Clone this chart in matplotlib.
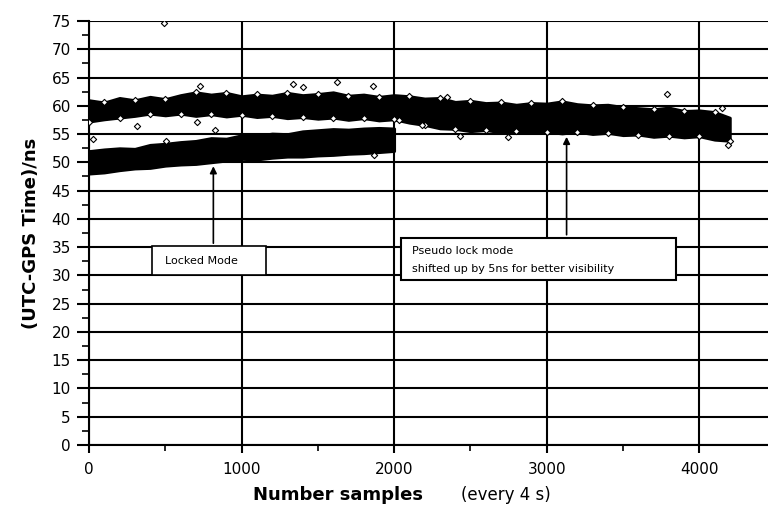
import matplotlib
matplotlib.use('Agg')
from matplotlib import pyplot as plt
from matplotlib.patches import Rectangle
import numpy as np

# pseudo lock mode band (shifted up by 5 ns), edges every 100 samples
pseudo_x = list(range(0, 4300, 100))
pseudo_hi = [61.0, 60.6, 61.4, 61.0, 61.6, 61.2, 61.9, 62.4, 62.0, 62.3, 61.7,
             62.0, 61.8, 62.3, 61.9, 62.1, 62.4, 61.8, 62.0, 61.6, 61.9,
             61.7, 61.3, 61.4, 60.7, 60.9, 60.5, 60.6, 60.2, 60.5, 60.4,
             60.8, 60.3, 60.1, 60.2, 59.8, 59.6, 59.4, 59.7, 59.1, 59.2,
             58.9, 57.9]
pseudo_lo = [57.2, 57.6, 57.9, 58.2, 58.6, 58.3, 58.6, 58.2, 58.5, 58.1, 58.4,
             58.0, 58.2, 57.8, 58.0, 57.7, 57.9, 57.5, 57.8, 57.4, 57.6,
             57.0, 56.6, 56.0, 55.9, 55.5, 55.7, 55.3, 55.5, 55.2, 55.4,
             55.1, 55.4, 55.0, 55.2, 54.8, 54.9, 54.5, 54.7, 54.4, 54.6,
             54.0, 53.8]

# locked mode band
locked_x = list(range(0, 2100, 100))
locked_hi = [52.0, 52.3, 52.5, 52.4, 53.1, 53.3, 53.6, 53.8, 54.3, 54.2, 54.8,
             54.7, 55.1, 55.0, 55.5, 55.7, 55.9, 55.8, 56.0, 56.1, 56.0]
locked_lo = [48.0, 48.2, 48.6, 48.9, 49.0, 49.4, 49.6, 49.7, 50.0, 50.3, 50.6,
             50.5, 50.8, 51.0, 51.0, 51.2, 51.3, 51.5, 51.6, 51.8, 52.0]

# scattered samples outside the dense bands
outlier_x = [493, 312, 705, 826, 26, 505, 727, 1335, 1403, 1625, 1861, 2180,
             1868, 2031, 2344, 2431, 2746, 3786, 4146, 4188]
outlier_y = [74.7, 56.5, 57.2, 55.8, 54.1, 53.8, 63.5, 63.9, 63.3, 64.2, 63.5,
             56.6, 51.3, 57.5, 61.6, 54.7, 54.5, 62.0, 59.6, 53.1]

xticks = [0, 1000, 2000, 3000, 4000]
yticks = list(range(0, 80, 5))

fig = plt.figure(figsize=(7.68, 5.11), dpi=100)
ax = fig.add_axes([89/768, 66/511, 679/768, 424/511])

ax.fill_between(pseudo_x, pseudo_lo, pseudo_hi, color='black', lw=2, zorder=3)
ax.fill_between(locked_x, locked_lo, locked_hi, color='black', lw=2, zorder=3)

# ragged edges of the bands
mk = dict(marker='D', s=10, facecolors='white', edgecolors='black', linewidths=0.8, zorder=4)
ax.scatter(pseudo_x[1::2], pseudo_hi[1::2], **mk)
ax.scatter(pseudo_x[::2], pseudo_lo[::2], **mk)
ax.scatter(outlier_x, outlier_y, **mk)

ax.set_xlim(0, 4450)
ax.set_ylim(0, 75)
ax.set_xticks(xticks)
ax.set_yticks(yticks)
ax.set_xticks(np.arange(500, 4500, 1000), minor=True)
ax.set_yticks(np.arange(2.5, 75, 5), minor=True)

ax.grid(True, which='major', color='black', lw=1.5)
ax.set_axisbelow(True)
for s in ['top', 'right']:
    ax.spines[s].set_visible(False)
for s in ['left', 'bottom']:
    ax.spines[s].set_linewidth(1.5)

ax.tick_params(axis='y', which='major', length=9, width=1.5, labelsize=11, pad=4)
ax.tick_params(axis='y', which='minor', length=5, width=1.2)
ax.tick_params(axis='x', which='major', length=6, width=1.5, labelsize=11, pad=6)
ax.tick_params(axis='x', which='minor', length=4, width=1.2)

ax.set_ylabel('(UTC-GPS Time)/ns', fontsize=13, fontweight='bold', labelpad=8)

fig.text(0.33, 0.031, 'Number samples', fontsize=13, fontweight='bold', ha='left', va='center')
fig.text(0.6, 0.031, '(every 4 s)', fontsize=12, ha='left', va='center')

# annotation boxes
ax.add_patch(Rectangle((413, 30.1), 747, 5.1, fill=True, facecolor='white',
                       edgecolor='black', lw=1.2, zorder=5))
ax.text(498, 32.6, 'Locked Mode', fontsize=8, ha='left', va='center', zorder=6)
ax.annotate('', xy=(815, 49.8), xytext=(815, 35.2),
            arrowprops=dict(arrowstyle='-|>', color='black', lw=1.2, mutation_scale=10),
            zorder=6)

ax.add_patch(Rectangle((2045, 29.1), 1802, 7.6, fill=True, facecolor='white',
                       edgecolor='black', lw=1.5, zorder=5))
ax.text(2114, 34.4, 'Pseudo lock mode', fontsize=8, ha='left', va='center', zorder=6)
ax.text(2114, 31.1, 'shifted up by 5ns for better visibility', fontsize=8,
        ha='left', va='center', zorder=6)
ax.annotate('', xy=(3130, 55.0), xytext=(3130, 36.7),
            arrowprops=dict(arrowstyle='-|>', color='black', lw=1.2, mutation_scale=10),
            zorder=6)

fig.savefig('out.png', dpi=100)
